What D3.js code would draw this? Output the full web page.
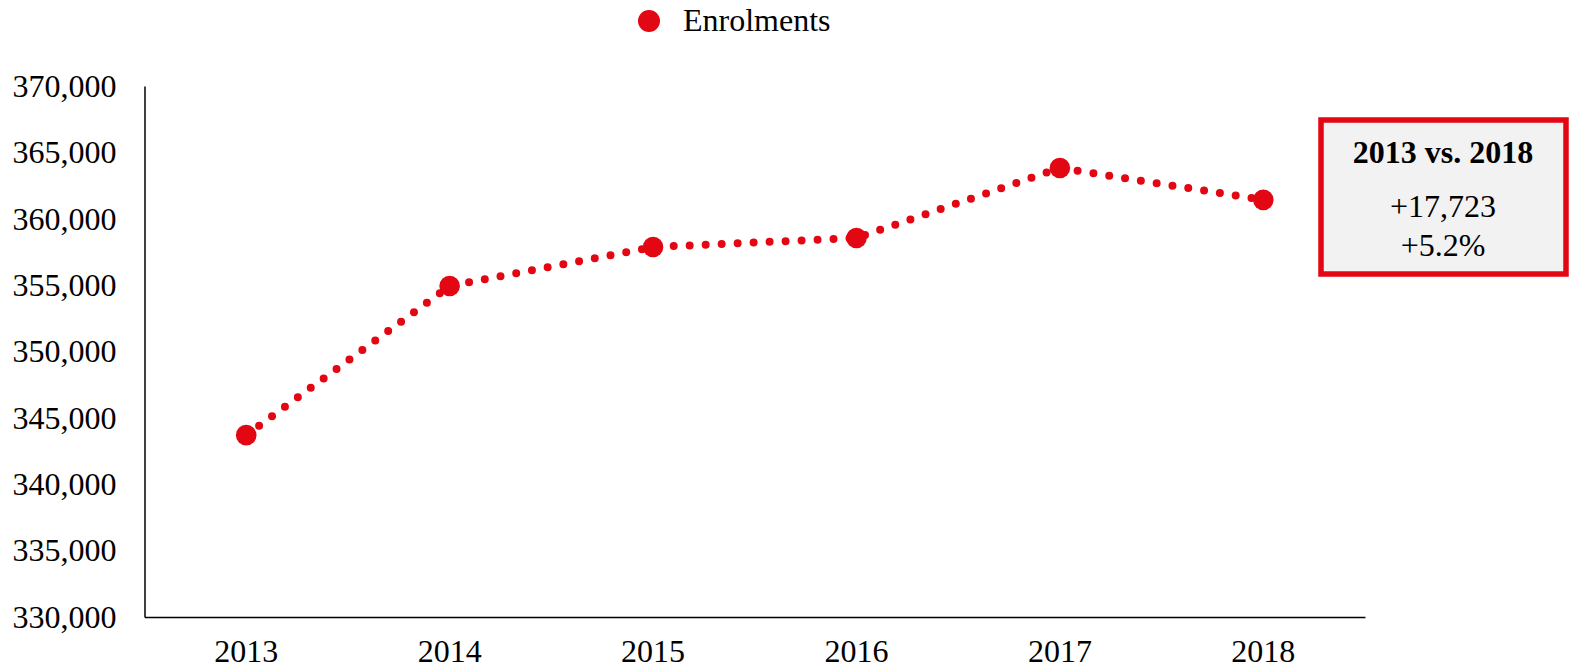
<!DOCTYPE html>
<html><head><meta charset="utf-8">
<script src="https://cdn.jsdelivr.net/npm/d3@7"></script>
<style>
html,body{margin:0;padding:0;background:#fff;}
svg{display:block;font-family:"Liberation Serif","Times New Roman",serif;}
</style></head>
<body>
<svg id="chart" width="1571" height="669"></svg>
<script>
const years = ["2013","2014","2015","2016","2017","2018"];
const enrolments = [343700, 354930, 357870, 358550, 363820, 361423];
const yTicks = [330000,335000,340000,345000,350000,355000,360000,365000,370000];
const seriesName = "Enrolments";
const boxTitle = "2013 vs. 2018";
const boxLines = ["+17,723", "+5.2%"];

(function(){
const red = "#e30613";
const fs = 32;
const svg = d3.select("#chart");
const mLeft = 144.5, mRight = 1365, mTop = 86, mBottom = 617;

const x = d3.scaleBand().domain(years).range([mLeft, mRight]);
const y = d3.scaleLinear().domain([330000, 370000]).range([mBottom, mTop]);

// Y axis
const yAxis = svg.append("g").attr("transform", `translate(${mLeft},0)`)
  .call(d3.axisLeft(y).tickValues(yTicks).tickSize(0).tickPadding(28).tickFormat(d3.format(",")));
yAxis.select(".domain").attr("stroke","#000").attr("stroke-width",1.5);
yAxis.selectAll("text").attr("font-size",fs).attr("fill","#000")
  .attr("font-family","'Liberation Serif','Times New Roman',serif");

// X axis
const xAxis = svg.append("g").attr("transform", `translate(0,${mBottom})`)
  .call(d3.axisBottom(x).tickSize(0).tickPadding(22));
xAxis.select(".domain").attr("stroke","#000").attr("stroke-width",1.5);
xAxis.selectAll("text").attr("font-size",fs).attr("fill","#000")
  .attr("font-family","'Liberation Serif','Times New Roman',serif");

const cx = d => x(d) + x.bandwidth()/2;
const data = years.map((yr,i)=>({yr, v: enrolments[i]}));

// Dotted line
svg.append("path").datum(data)
  .attr("d", d3.line().x(d=>cx(d.yr)).y(d=>y(d.v)))
  .attr("fill","none").attr("stroke",red).attr("stroke-width",8)
  .attr("stroke-linecap","round").attr("stroke-dasharray","0 16");

// Markers
svg.selectAll("circle.pt").data(data).join("circle").attr("class","pt")
  .attr("cx",d=>cx(d.yr)).attr("cy",d=>y(d.v)).attr("r",10.3).attr("fill",red);

// Legend
svg.append("circle").attr("cx",649).attr("cy",21).attr("r",11).attr("fill",red);
svg.append("text").attr("x",683).attr("y",31).attr("font-size",fs).attr("fill","#000").text(seriesName);

// Annotation box
svg.append("rect").attr("x",1321).attr("y",120).attr("width",245).attr("height",154)
  .attr("fill","#f2f2f2").attr("stroke",red).attr("stroke-width",5.5);
svg.append("text").attr("x",1443).attr("y",163).attr("text-anchor","middle")
  .attr("font-size",fs).attr("font-weight","bold").attr("fill","#000").text(boxTitle);
boxLines.forEach((t,i)=>{
  svg.append("text").attr("x",1443).attr("y",217+i*39).attr("text-anchor","middle")
    .attr("font-size",fs).attr("fill","#000").text(t);
});
})();
</script>
</body></html>
